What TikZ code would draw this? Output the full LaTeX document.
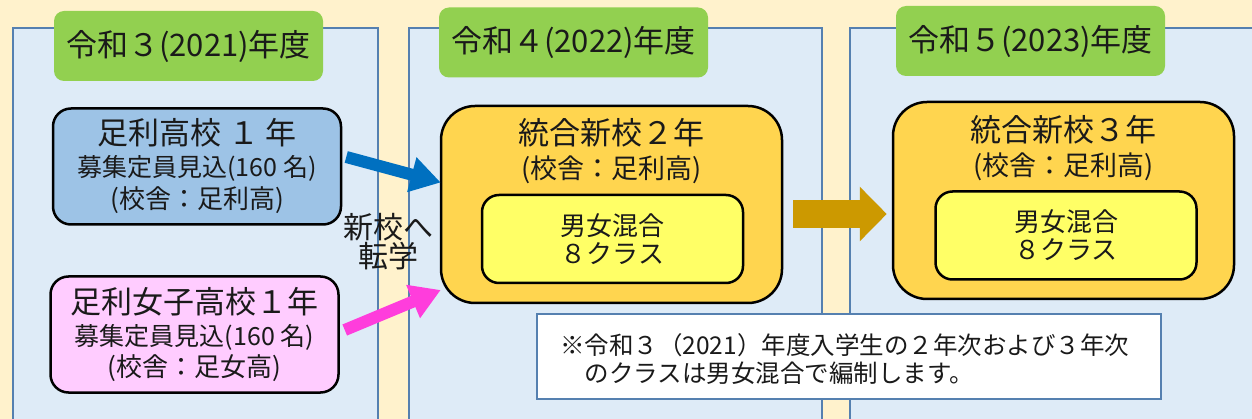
\documentclass[tikz,border=0pt]{standalone}
\usepackage{fontspec}
\setmainfont{Noto Sans CJK JP}
\usetikzlibrary{arrows.meta}
\definecolor{bg}{HTML}{FFF2CC}
\definecolor{colfill}{HTML}{DEEBF7}
\definecolor{colline}{HTML}{5580B0}
\definecolor{yeargreen}{HTML}{92D050}
\definecolor{boxblue}{HTML}{9DC3E6}
\definecolor{boxpink}{HTML}{FFCCFF}
\definecolor{boxorange}{HTML}{FFD54F}
\definecolor{boxyellow}{HTML}{FFFF66}
\definecolor{arrblue}{HTML}{0070C0}
\definecolor{arrpink}{HTML}{FF3DDC}
\definecolor{arrgold}{HTML}{CC9900}
\definecolor{txt}{HTML}{1A1A1A}
\newcommand{\fsz}[1]{\fontsize{#1}{#1}\selectfont}
\begin{document}
\begin{tikzpicture}[x=1pt,y=-1pt,
  column/.style={draw=colline, line width=2pt, fill=colfill},
  yearlbl/.style={fill=yeargreen, rounded corners=10pt, minimum width=269pt, minimum height=70pt, inner sep=0pt, text=txt, font=\fsz{31}},
  srcbox/.style={draw=black, line width=2.5pt, rounded corners=18pt, minimum width=288pt, minimum height=116pt, inner sep=0pt},
  newbox/.style={draw=black, line width=2.5pt, fill=boxorange, rounded corners=34pt, minimum width=341pt, minimum height=197pt, inner sep=0pt},
  classbox/.style={draw=black, line width=2.5pt, fill=boxyellow, rounded corners=17pt, minimum width=261pt, minimum height=88pt, inner sep=0pt, text=txt, font=\fsz{26}, align=center},
  lbl/.style={text=txt, inner sep=0pt},
  fatarrow/.style={line width=12pt, -{Triangle[width=34pt,length=30pt]}},
]
\useasboundingbox (0,0) rectangle (1252,419);
\fill[bg] (0,0) rectangle (1252,419);

% columns
\draw[column] (13,28) rectangle (378,440);
\draw[column] (409,28) rectangle (822,440);
\draw[column] (850,28) rectangle (1270,440);

% year labels
\node[yearlbl] (y1) at (188.5,46) {令和３(2021)年度};
\node[yearlbl] (y2) at (573.5,42.5) {令和４(2022)年度};
\node[yearlbl] (y3) at (1030.5,41) {令和５(2023)年度};

% source schools
\node[srcbox, fill=boxblue] (b1) at (197,166.5) {};
\node[lbl, font=\fsz{31}] (b1t) at (197,133) {足利高校 １ 年};
\node[lbl, font=\fsz{25}] (b1s) at (197,168) {募集定員見込(160 名)};
\node[lbl, font=\fsz{26}] (b1c) at (197,200) {(校舎：足利高)};

\node[srcbox, fill=boxpink] (p1) at (194.5,334.5) {};
\node[lbl, font=\fsz{31}] (p1t) at (194.5,302) {足利女子高校１年};
\node[lbl, font=\fsz{25}] (p1s) at (194.5,337) {募集定員見込(160 名)};
\node[lbl, font=\fsz{26}] (p1c) at (194.5,368) {(校舎：足女高)};

% transfer label
\node[lbl, font=\fsz{30}, align=center] (tr) at (388,242) {新校へ\\[-1pt]転学};

% new school year 2
\node[newbox] (o2) at (611.5,204.5) {};
\node[lbl, font=\fsz{31}] (o2t) at (611.5,133) {統合新校２年};
\node[lbl, font=\fsz{27}] (o2c) at (611.5,170) {(校舎：足利高)};
\node[classbox] (c2) at (612.5,239) {男女混合\\[2pt]８クラス};

% new school year 3
\node[newbox] (o3) at (1063.5,200.5) {};
\node[lbl, font=\fsz{31}] (o3t) at (1063.5,130) {統合新校３年};
\node[lbl, font=\fsz{27}] (o3c) at (1063.5,167) {(校舎：足利高)};
\node[classbox] (c3) at (1066,235.5) {男女混合\\[2pt]８クラス};

% arrows
\draw[fatarrow, arrblue] ([xshift=4pt,yshift=9.5pt]b1.east) -- ([xshift=1pt,yshift=22pt]o2.west);
\draw[fatarrow, arrpink] ([xshift=5pt,yshift=4.5pt]p1.east) -- ([xshift=1pt,yshift=-85.5pt]o2.west);
\draw[arrgold, line width=28pt, -{Triangle[width=53pt,length=27pt]}] ([xshift=10pt,yshift=-9.5pt]o2.east) -- ([xshift=-5pt,yshift=-13.5pt]o3.west);

% note
\node[draw=colline, line width=2.5pt, fill=white, minimum width=624pt, minimum height=85pt, inner sep=0pt] (note) at (849,356.5) {};
\node[lbl, font=\fsz{24.5}, align=left, anchor=west] (notet) at (560,359) {※令和３（2021）年度入学生の２年次および３年次\\[3pt]　のクラスは男女混合で編制します。};
\end{tikzpicture}
\end{document}
